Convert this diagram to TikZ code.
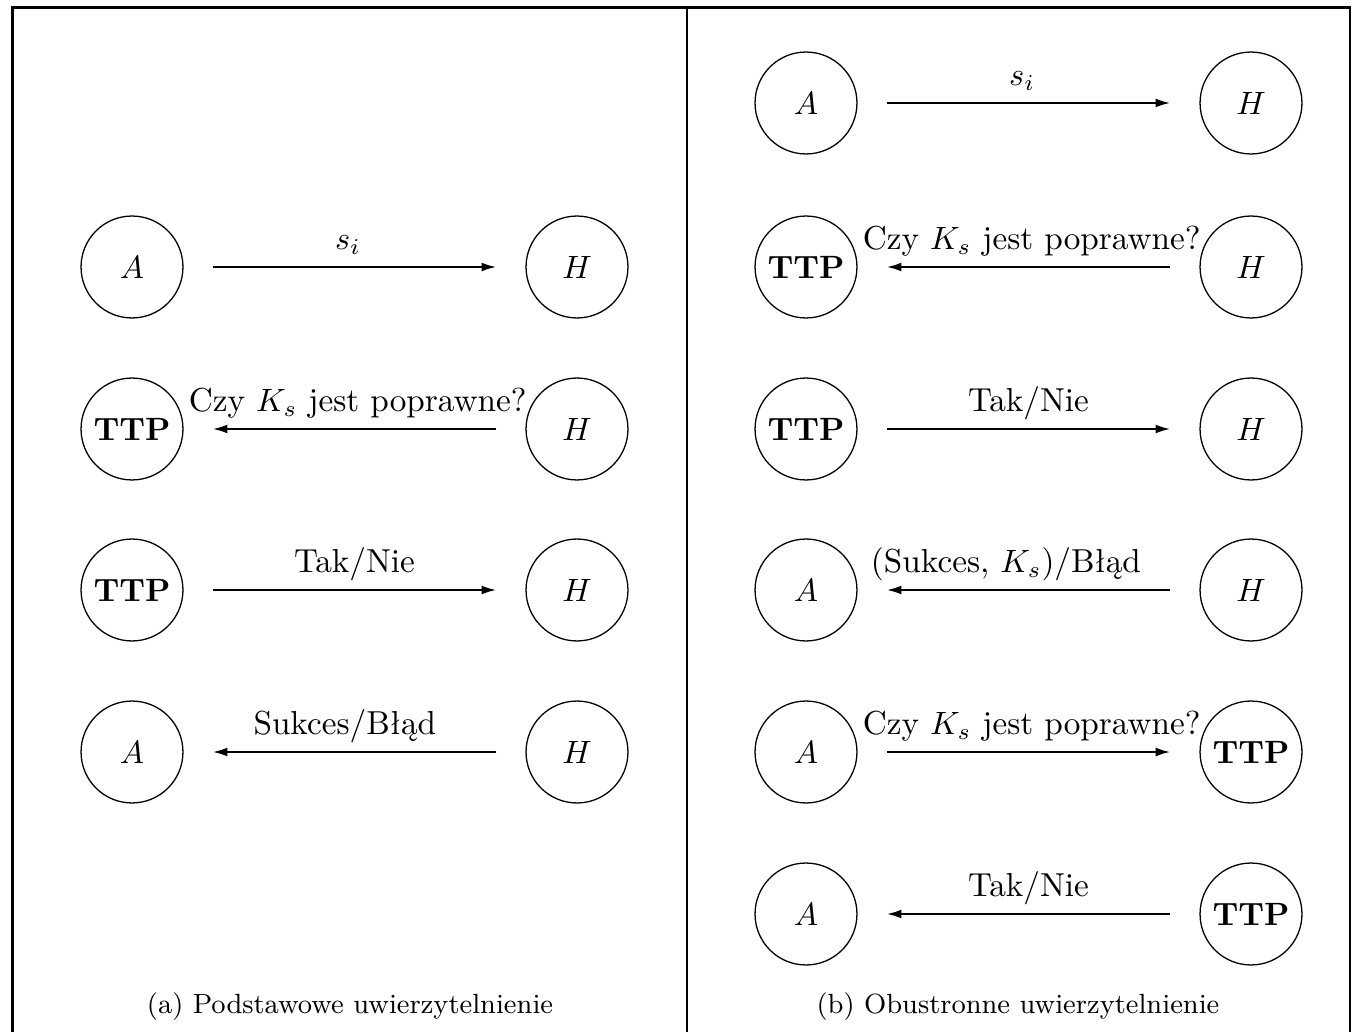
\documentclass[tikz,border=0pt]{standalone}
\usetikzlibrary{arrows.meta}
\begin{document}
\begin{tikzpicture}[x=0.31pt,y=-0.31pt,
  party/.style={circle,draw,line width=0.4pt,minimum size=31.6pt,inner sep=0pt},
  msg/.style={line width=0.7pt,-{Latex[length=4.6pt,width=2.8pt]},shorten >=9pt,shorten <=9pt},
  lbl/.style={anchor=base,yshift=5.3pt,inner sep=0pt,font=\fontsize{10.3}{12}\selectfont},
  frame/.style={line width=0.65pt},
  captxt/.style={font=\fontsize{8.6}{10}\selectfont,anchor=base}]
\useasboundingbox (0,0) rectangle (1353,1032);
% frame
\draw[frame] (12.5,1032) -- (12.5,7.5) -- (1350,7.5) -- (1350,1032);
\draw[frame] (687,7.5) -- (687,1032);
% ---------- (a) ----------
\node[party] (aA1) at (132,267) {$A$};
\node[party] (aH1) at (577,267) {$H$};
\node[party] (aT2) at (132,429) {\textbf{TTP}};
\node[party] (aH2) at (577,429) {$H$};
\node[party] (aT3) at (132,590) {\textbf{TTP}};
\node[party] (aH3) at (577,590) {$H$};
\node[party] (aA4) at (132,752) {$A$};
\node[party] (aH4) at (577,752) {$H$};
\draw[msg] (aA1) -- node[lbl,xshift=-2pt]{$s_i$} (aH1);
\draw[msg] (aH2) -- node[lbl,xshift=1pt]{Czy $K_s$ jest poprawne?} (aT2);
\draw[msg] (aT3) -- node[lbl]{Tak/Nie} (aH3);
\draw[msg] (aH4) -- node[lbl,xshift=-3pt]{Sukces/Błąd} (aA4);
\node[captxt] (capa) at (350,1013) {(a) Podstawowe uwierzytelnienie};
% ---------- (b) ----------
\node[party] (bA1) at (806,103) {$A$};
\node[party] (bH1) at (1251,103) {$H$};
\node[party] (bT2) at (806,267) {\textbf{TTP}};
\node[party] (bH2) at (1251,267) {$H$};
\node[party] (bT3) at (806,429) {\textbf{TTP}};
\node[party] (bH3) at (1251,429) {$H$};
\node[party] (bA4) at (806,590) {$A$};
\node[party] (bH4) at (1251,590) {$H$};
\node[party] (bA5) at (806,752) {$A$};
\node[party] (bT5) at (1251,752) {\textbf{TTP}};
\node[party] (bA6) at (806,914) {$A$};
\node[party] (bT6) at (1251,914) {\textbf{TTP}};
\draw[msg] (bA1) -- node[lbl,xshift=-2pt]{$s_i$} (bH1);
\draw[msg] (bH2) -- node[lbl,xshift=1pt]{Czy $K_s$ jest poprawne?} (bT2);
\draw[msg] (bT3) -- node[lbl]{Tak/Nie} (bH3);
\draw[msg] (bH4) -- node[lbl,xshift=-7pt]{(Sukces, $K_s$)/Błąd} (bA4);
\draw[msg] (bA5) -- node[lbl,xshift=1pt]{Czy $K_s$ jest poprawne?} (bT5);
\draw[msg] (bT6) -- node[lbl]{Tak/Nie} (bA6);
\node[captxt] (capb) at (1018,1013) {(b) Obustronne uwierzytelnienie};
\end{tikzpicture}
\end{document}
